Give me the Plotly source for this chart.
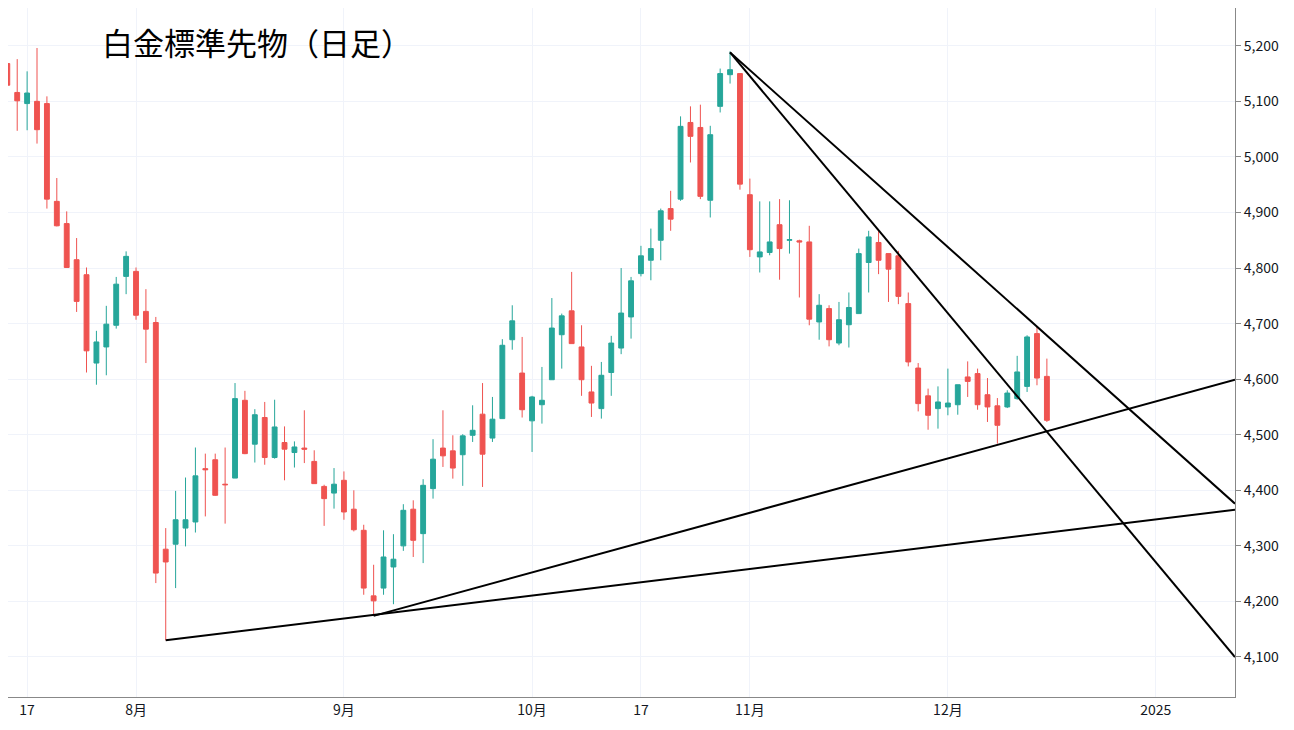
import plotly.graph_objects as go

idx = list(range(0, 107))
opens = [5149,5168,5116,5096,5100,5096,4920,4880,4815,4788,4629,4658,4697,4785,4794,4722,4702,4294,4303,4332,
         4343,4439,4455,4411,4422,4562,4483,4531,4459,4486,4468,4476,4452,4407,4395,4418,4366,4328,4210,4224,
         4262,4300,4366,4322,4403,4476,4471,4464,4499,4537,4494,4529,4671,4611,4525,4554,4599,4680,4723,4658,
         4577,4547,4612,4656,4712,4790,4814,4850,4907,4924,5062,5053,4922,5091,5148,5150,4932,4820,4828,4878,
         4850,4849,4847,4703,4727,4665,4698,4718,4810,4846,4826,4822,4736,4620,4570,4547,4550,4554,4604,4610,
         4572,4552,4550,4565,4587,4682,4605]
highs = [5200,5228,5176,5154,5196,5109,4962,4902,4854,4801,4687,4732,4784,4830,4801,4762,4712,4332,4399,4423,
         4477,4466,4466,4477,4593,4579,4546,4559,4563,4515,4488,4544,4472,4410,4440,4434,4400,4338,4266,4328,
         4321,4375,4382,4420,4492,4544,4499,4501,4553,4593,4568,4672,4733,4676,4570,4622,4746,4718,4793,4697,
         4624,4631,4678,4800,4784,4840,4871,4907,4939,5073,5091,5094,5056,5159,5190,5150,4961,4920,4920,4924,
         4922,4851,4876,4753,4733,4739,4756,4835,4867,4868,4826,4831,4756,4629,4583,4587,4619,4590,4632,4619,
         4602,4566,4580,4642,4679,4694,4637]
lows = [5140,5126,5047,5048,5024,4907,4875,4801,4721,4612,4590,4607,4691,4753,4707,4629,4233,4130,4224,4299,
        4324,4353,4390,4340,4422,4465,4450,4446,4457,4418,4441,4449,4412,4336,4367,4347,4326,4212,4176,4212,
        4195,4291,4280,4269,4385,4442,4421,4408,4487,4406,4487,4529,4653,4531,4469,4520,4599,4619,4664,4570,
        4532,4529,4570,4645,4673,4785,4778,4814,4867,4921,4990,4924,4891,5080,5132,4941,4820,4792,4823,4779,
        4826,4747,4697,4671,4659,4661,4657,4718,4756,4789,4739,4735,4623,4542,4509,4511,4535,4536,4568,4545,
        4523,4484,4548,4563,4577,4589,4523]
closes = [5189,5129,5101,5115,5049,4924,4876,4801,4740,4651,4667,4699,4771,4821,4715,4690,4251,4271,4347,4347,
          4426,4437,4391,4410,4565,4466,4536,4459,4514,4474,4478,4474,4412,4385,4411,4361,4329,4224,4201,4280,
          4276,4364,4310,4409,4456,4462,4440,4498,4508,4465,4528,4661,4705,4545,4568,4562,4692,4714,4664,4599,
          4557,4607,4665,4719,4777,4822,4835,4903,4888,5055,5037,4929,5040,5150,5157,4951,4833,4829,4847,4835,
          4851,4847,4708,4733,4671,4707,4729,4826,4856,4814,4798,4749,4631,4556,4535,4559,4557,4590,4596,4554,
          4550,4517,4575,4613,4676,4602,4526]

tick_pos = [3, 14, 35, 54, 65, 76, 96, 117]
tick_text = ["17", "8月", "9月", "10月", "17", "11月", "12月", "2025"]
price_ticks = list(range(4100, 5201, 100))

# trend lines: (start index, start price, end index, end price)
trend_lines = [
    (17, 4130, 125, 4365),
    (38, 4174, 125, 4599),
    (74, 5188, 125, 4376),
    (74, 5188, 125, 4100),
]

fig = go.Figure()
fig.add_trace(go.Candlestick(
    x=idx, open=opens, high=highs, low=lows, close=closes,
    increasing=dict(line=dict(color="#26a69a", width=1), fillcolor="#26a69a"),
    decreasing=dict(line=dict(color="#ef5350", width=1), fillcolor="#ef5350"),
    whiskerwidth=0, showlegend=False, hoverinfo="skip"))
for x0, y0, x1, y1 in trend_lines:
    fig.add_trace(go.Scatter(x=[x0, x1], y=[y0, y1], mode="lines",
                             line=dict(color="black", width=2), showlegend=False, hoverinfo="skip"))

fig.add_annotation(text="白金標準先物（日足）", xref="paper", yref="paper", x=0.075, y=0.952,
                   xanchor="left", yanchor="middle", showarrow=False,
                   font=dict(size=31, color="black", family="Noto Sans CJK JP"))

fig.update_layout(
    width=1278, height=714, margin=dict(l=0, r=51, t=0, b=25),
    paper_bgcolor="white", plot_bgcolor="white",
    font=dict(family="Noto Sans CJK JP", size=14, color="#131722"),
    xaxis=dict(range=[1.07, 125], tickvals=tick_pos, ticktext=tick_text, showgrid=True,
               gridcolor="#f0f3fa", rangeslider=dict(visible=False), showline=True,
               linecolor="#888888", ticks="", zeroline=False, tickfont=dict(size=14),
               automargin=False),
    yaxis=dict(range=[4028, 5268], side="right", tickvals=price_ticks, tickformat=",",
               showgrid=True, gridcolor="#f0f3fa", showline=True, linecolor="#888888",
               ticks="outside", ticklen=5, tickcolor="#888888", zeroline=False, tickfont=dict(size=14),
               automargin=False),
)
fig.write_html("out.html")
